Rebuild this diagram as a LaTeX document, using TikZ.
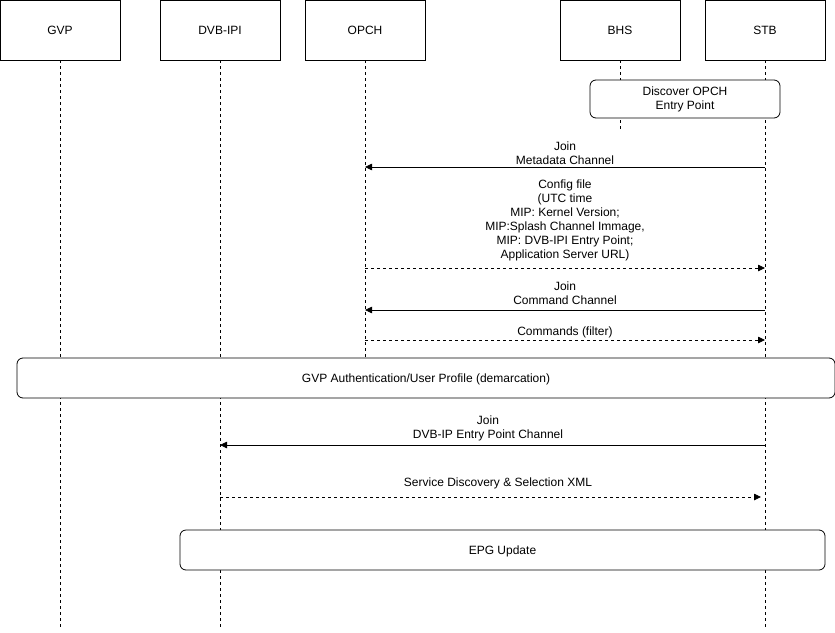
\documentclass[tikz,border=0pt]{standalone}
\usepackage{fontspec}
\setmainfont{Liberation Sans}
\usetikzlibrary{arrows.meta}
\begin{document}
\begin{tikzpicture}[x=1pt,y=-1pt,
  font=\fontsize{12}{14}\selectfont,
  actor/.style={draw,line width=0.8pt,minimum width=120pt,minimum height=60pt,inner sep=0pt},
  life/.style={dashed,line width=0.6pt,dash pattern=on 3pt off 3pt},
  frag/.style={draw,line width=0.8pt,rounded corners=6pt,inner sep=0pt},
  msg/.style={line width=0.8pt,-{Triangle[length=7pt,width=6.5pt]}},
  rmsg/.style={msg,dash pattern=on 3pt off 3pt},
  lbl/.style={align=center,inner sep=0pt}
]
\useasboundingbox (0,0) rectangle (835,632);
% actors
\node[actor] (gvp) at (60,30) {GVP};
\node[actor] (dvb) at (220,30) {DVB-IPI};
\node[actor] (opch) at (365,30) {OPCH};
\node[actor] (bhs) at (620,30) {BHS};
\node[actor] (stb) at (765,30) {STB};
% lifeline ends
\coordinate (gvpE) at (60,630);
\coordinate (dvbE) at (220,630);
\coordinate (opchE) at (365,398);
\coordinate (bhsE) at (620,130);
\coordinate (stbE) at (765,630);
\draw[life] (gvp.south) -- (gvpE);
\draw[life] (dvb.south) -- (dvbE);
\draw[life] (opch.south) -- (opchE);
\draw[life] (bhs.south) -- (bhsE);
\draw[life] (stb.south) -- (stbE);
% fragments
\node[frag,fill=white,minimum width=190pt,minimum height=38pt,align=center] (disc) at (685,99) {Discover OPCH\\Entry Point};
\node[frag,fill=white,minimum width=818pt,minimum height=40pt,text depth=-1pt] (auth) at (426,378) {GVP Authentication/User Profile (demarcation)};
\node[frag,fill=white,minimum width=645pt,minimum height=40pt,text depth=-1pt] (epg) at (502.5,550) {EPG Update};
% message anchor points
\coordinate (s1) at (765,167); \coordinate (o1) at (365,167);
\coordinate (o2) at (365,268); \coordinate (s2) at (765,268);
\coordinate (s3) at (765,310); \coordinate (o3) at (365,310);
\coordinate (o4) at (365,340); \coordinate (s4) at (765,340);
\coordinate (s5) at (765,445); \coordinate (d5) at (220,445);
\coordinate (d6) at (220,497); \coordinate (s6) at (761,497);
\draw[msg] (s1) -- (o1);
\draw[rmsg] (o2) -- (s2);
\draw[msg] (s3) -- (o3);
\draw[rmsg] (o4) -- (s4);
\draw[msg] (s5) -- (d5);
\draw[rmsg] (d6) -- (s6);
% labels
\node[lbl] (l1) at (565,153) {Join\\Metadata Channel};
\node[lbl] (l2) at (565,220) {Config file\\(UTC time\\MIP: Kernel Version;\\MIP:Splash Channel Immage,\\MIP: DVB-IPI Entry Point;\\Application Server URL)};
\node[lbl] (l3) at (565,293) {Join\\Command Channel};
\node[lbl] (l4) at (565,332) {Commands (filter)};
\node[lbl] (l5) at (488,428) {Join\\DVB-IP Entry Point Channel};
\node[lbl] (l6) at (498,483) {Service Discovery \& Selection XML};
\end{tikzpicture}
\end{document}
